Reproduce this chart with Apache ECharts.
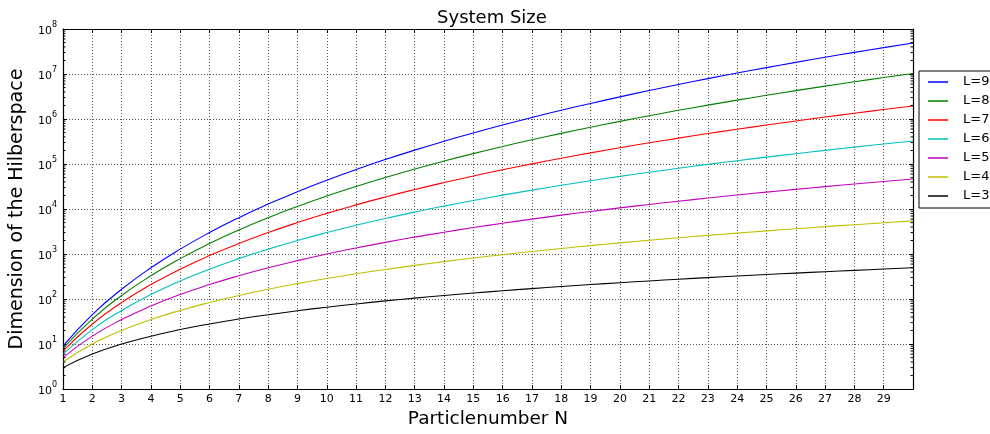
<!DOCTYPE html>
<html>
<head>
<meta charset="utf-8">
<title>System Size</title>
<script src="https://cdn.jsdelivr.net/npm/echarts@6/dist/echarts.min.js"></script>
<style>
  html, body { margin: 0; padding: 0; background: #fff; }
  #chart { width: 990px; height: 434px; }
</style>
</head>
<body>
<div id="chart"></div>
<script>
// Particle numbers on the x axis
const particles = [1, 2, 3, 4, 5, 6, 7, 8, 9, 10, 11, 12, 13, 14, 15,
  16, 17, 18, 19, 20, 21, 22, 23, 24, 25, 26, 27, 28, 29, 30];

// Hilbert space dimension for each system size L
const dimL9 = [9, 45, 165, 495, 1287, 3003, 6435, 12870, 24310, 43758, 75582, 125970,
  203490, 319770, 490314, 735471, 1081575, 1562275, 2220075, 3108105, 4292145,
  5852925, 7888725, 10518300, 13884156, 18156204, 23535820, 30260340, 38608020, 48903492];
const dimL8 = [8, 36, 120, 330, 792, 1716, 3432, 6435, 11440, 19448, 31824, 50388,
  77520, 116280, 170544, 245157, 346104, 480700, 657800, 888030, 1184040, 1560780,
  2035800, 2629575, 3365856, 4272048, 5379616, 6724520, 8347680, 10295472];
const dimL7 = [7, 28, 84, 210, 462, 924, 1716, 3003, 5005, 8008, 12376, 18564, 27132,
  38760, 54264, 74613, 100947, 134596, 177100, 230230, 296010, 376740, 475020, 593775,
  736281, 906192, 1107568, 1344904, 1623160, 1947792];
const dimL6 = [6, 21, 56, 126, 252, 462, 792, 1287, 2002, 3003, 4368, 6188, 8568, 11628,
  15504, 20349, 26334, 33649, 42504, 53130, 65780, 80730, 98280, 118755, 142506, 169911,
  201376, 237336, 278256, 324632];
const dimL5 = [5, 15, 35, 70, 126, 210, 330, 495, 715, 1001, 1365, 1820, 2380, 3060,
  3876, 4845, 5985, 7315, 8855, 10626, 12650, 14950, 17550, 20475, 23751, 27405, 31465,
  35960, 40920, 46376];
const dimL4 = [4, 10, 20, 35, 56, 84, 120, 165, 220, 286, 364, 455, 560, 680, 816, 969,
  1140, 1330, 1540, 1771, 2024, 2300, 2600, 2925, 3276, 3654, 4060, 4495, 4960, 5456];
const dimL3 = [3, 6, 10, 15, 21, 28, 36, 45, 55, 66, 78, 91, 105, 120, 136, 153, 171,
  190, 210, 231, 253, 276, 300, 325, 351, 378, 406, 435, 465, 496];

const seriesNames = ['L=9', 'L=8', 'L=7', 'L=6', 'L=5', 'L=4', 'L=3'];
const seriesValues = [dimL9, dimL8, dimL7, dimL6, dimL5, dimL4, dimL3];
const seriesColors = ['#0000ff', '#008000', '#ff0000', '#00bfbf', '#bf00bf', '#bfbf00', '#000000'];

const FONT = 'DejaVu Sans';
const X_MIN = 1, X_MAX = 30;

// minor tick positions on the log axis: 2..9 times each decade
const minorTicks = [];
for (let e = 0; e < 8; e++) {
  for (let m = 2; m <= 9; m++) minorTicks.push(m * Math.pow(10, e));
}

const chart = echarts.init(document.getElementById('chart'), null, { renderer: 'canvas' });

const lineSeries = seriesNames.map((name, k) => ({
  name: name,
  type: 'line',
  xAxisIndex: 0,
  yAxisIndex: 0,
  data: particles.map((n, i) => [n, seriesValues[k][i]]),
  symbol: 'none',
  smooth: 0.5,
  lineStyle: { color: seriesColors[k], width: 1.1 },
  itemStyle: { color: seriesColors[k] },
  emphasis: { disabled: true },
  z: 3
}));

// short minor tick marks on the left and right frame edges
const minorTickSeries = {
  type: 'custom',
  silent: true,
  xAxisIndex: 0,
  yAxisIndex: 0,
  data: minorTicks.map(v => [X_MIN, v]),
  renderItem: function (params, api) {
    const v = api.value(1);
    const pl = api.coord([X_MIN, v]);
    const pr = api.coord([X_MAX, v]);
    const style = { stroke: '#000', lineWidth: 1 };
    return {
      type: 'group',
      children: [
        { type: 'line', shape: { x1: pl[0], y1: pl[1], x2: pl[0] + 2.5, y2: pl[1] }, style: style },
        { type: 'line', shape: { x1: pr[0], y1: pr[1], x2: pr[0] - 2.5, y2: pr[1] }, style: style }
      ]
    };
  },
  z: 4
};

const option = {
  backgroundColor: '#ffffff',
  animation: false,
  title: {
    text: 'System Size',
    left: 487,
    top: 4,
    textAlign: 'center',
    textStyle: { fontFamily: FONT, fontSize: 18, fontWeight: 'normal', color: '#000' }
  },
  legend: {
    data: seriesNames,
    orient: 'vertical',
    left: 919,
    top: 71,
    padding: [4, 40, 5, 9],
    icon: 'rect',
    itemWidth: 20,
    itemHeight: 1.5,
    itemGap: 5,
    backgroundColor: '#fff',
    borderColor: '#000',
    borderWidth: 1,
    borderRadius: 0,
    selectedMode: false,
    textStyle: { fontFamily: FONT, fontSize: 13, color: '#000', padding: [0, 0, 0, 10], lineHeight: 14 }
  },
  grid: { left: 60, right: 77, top: 29, bottom: 36, containLabel: false },
  xAxis: [
    {
      type: 'value',
      min: X_MIN,
      max: X_MAX,
      interval: 1,
      name: 'Particlenumber N',
      nameLocation: 'middle',
      nameGap: 17,
      nameTextStyle: { fontFamily: FONT, fontSize: 18.5, color: '#000', verticalAlign: 'top' },
      axisLine: { show: true, lineStyle: { color: '#000', width: 1.2 } },
      axisTick: { show: true, inside: true, length: 4, lineStyle: { color: '#000' } },
      axisLabel: {
        fontFamily: FONT, fontSize: 11, color: '#000', margin: 5,
        formatter: v => (v >= X_MAX ? '' : String(v))
      },
      splitLine: { show: true, lineStyle: { color: '#555', width: 1, type: [1, 2] } }
    },
    {
      type: 'value',
      position: 'top',
      min: X_MIN,
      max: X_MAX,
      interval: 1,
      axisLine: { show: true, lineStyle: { color: '#000', width: 1.2 } },
      axisTick: { show: true, inside: true, length: 4, lineStyle: { color: '#000' } },
      axisLabel: { show: false },
      splitLine: { show: false }
    }
  ],
  yAxis: [
    {
      type: 'log',
      logBase: 10,
      min: 1,
      max: 1e8,
      name: 'Dimension of the Hilberspace',
      nameLocation: 'middle',
      nameGap: 27,
      nameRotate: 90,
      nameTextStyle: { fontFamily: FONT, fontSize: 19, color: '#000', verticalAlign: 'bottom' },
      axisLine: { show: true, lineStyle: { color: '#000', width: 1.2 } },
      axisTick: { show: true, inside: true, length: 4, lineStyle: { color: '#000' } },
      axisLabel: {
        margin: 6,
        formatter: v => '{b|10}{s|' + Math.round(Math.log10(v)) + '}',
        rich: {
          b: { fontFamily: FONT, fontSize: 11, color: '#000', lineHeight: 16, verticalAlign: 'bottom' },
          s: { fontFamily: FONT, fontSize: 8, color: '#000', lineHeight: 16, verticalAlign: 'top' }
        }
      },
      splitLine: { show: true, lineStyle: { color: '#555', width: 1, type: [1, 2] } }
    },
    {
      type: 'log',
      logBase: 10,
      min: 1,
      max: 1e8,
      position: 'right',
      axisLine: { show: true, lineStyle: { color: '#000', width: 1.2 } },
      axisTick: { show: true, inside: true, length: 4, lineStyle: { color: '#000' } },
      axisLabel: { show: false },
      splitLine: { show: false }
    }
  ],
  series: lineSeries.concat([minorTickSeries])
};

chart.setOption(option);
</script>
</body>
</html>
